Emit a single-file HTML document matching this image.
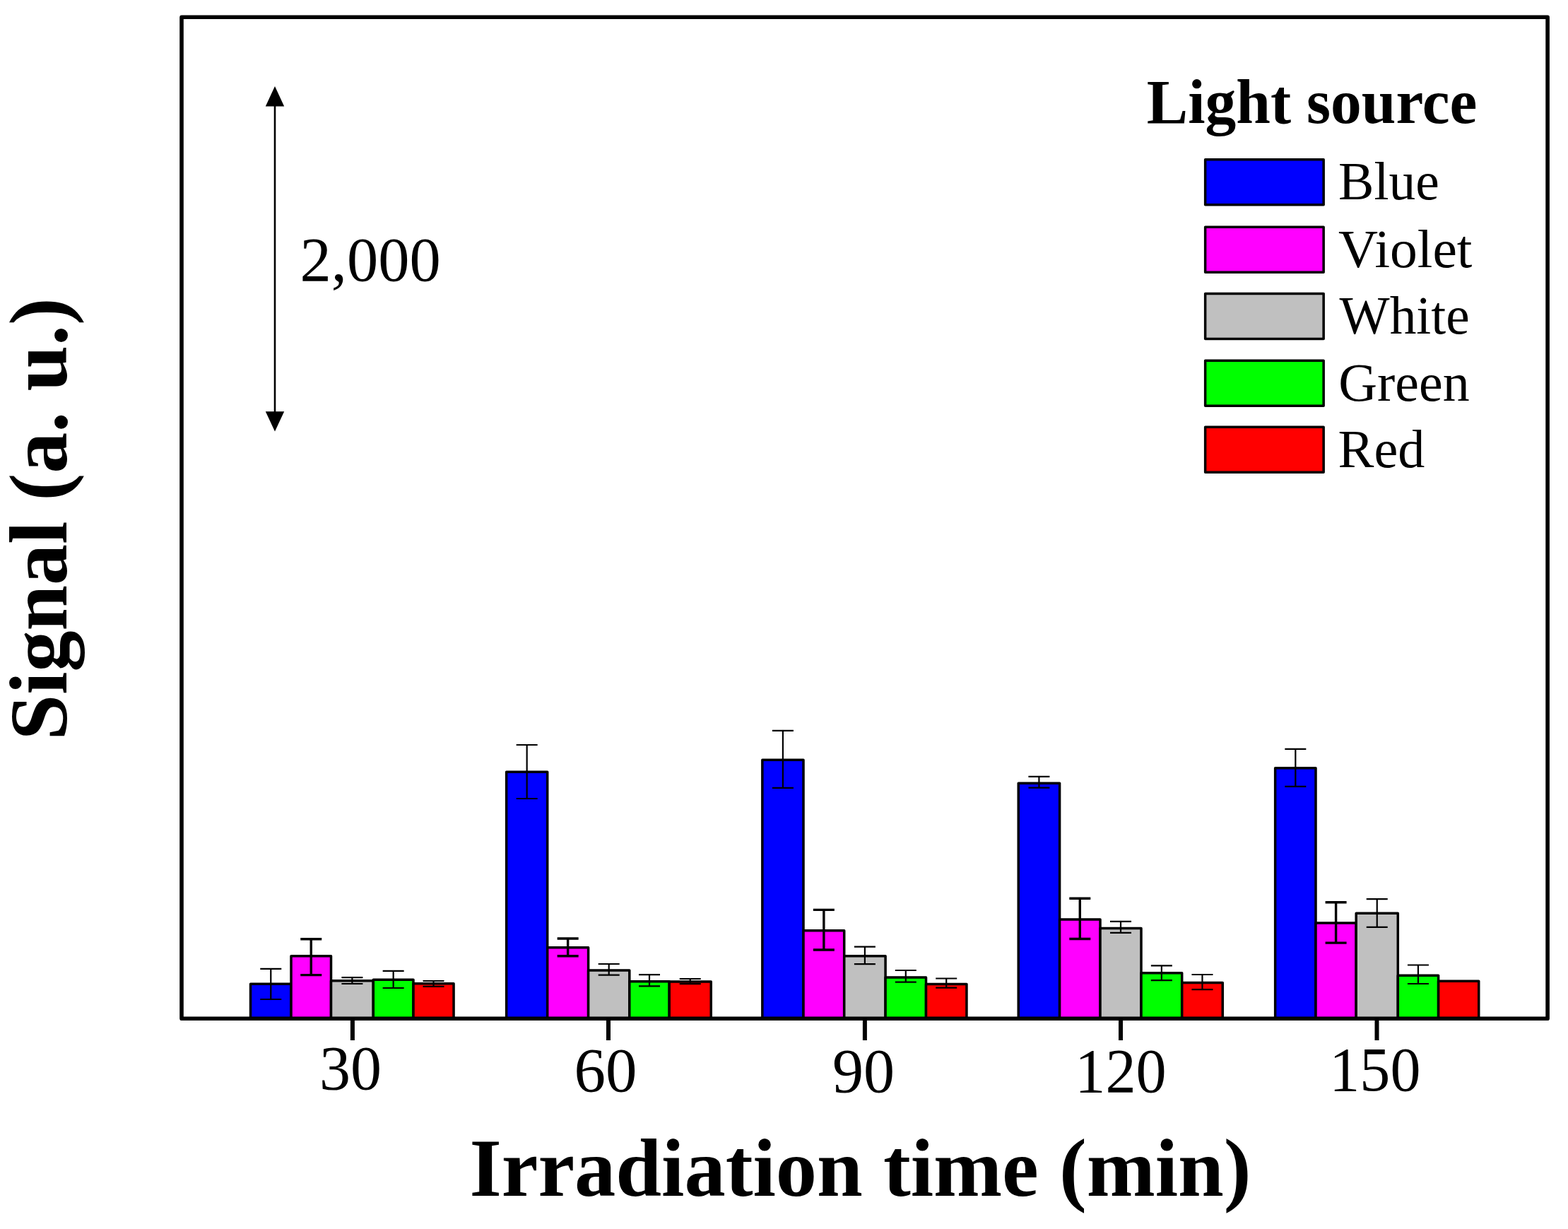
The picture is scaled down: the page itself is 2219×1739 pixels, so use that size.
<!DOCTYPE html>
<html><head><meta charset="utf-8"><title>Signal vs irradiation time</title>
<style>
html,body{margin:0;padding:0;background:#fff;}
body{width:2219px;height:1739px;overflow:hidden;}
svg{display:block;}
.t{font-family:"Liberation Serif","Times New Roman",serif;fill:#000;}
.b{font-weight:bold;}
</style></head><body>
<svg width="2219" height="1739" viewBox="0 0 2219 1739">
<rect x="0" y="0" width="2219" height="1739" fill="#fff"/>
<g stroke="#000" stroke-width="3.5" stroke-linejoin="round">
<rect x="354.55" y="1392.35" width="57.45" height="48.95" fill="#0000FF"/>
<rect x="412.00" y="1352.75" width="56.50" height="88.55" fill="#FF00FF"/>
<rect x="468.50" y="1387.65" width="59.80" height="53.65" fill="#C0C0C0"/>
<rect x="528.30" y="1386.15" width="56.70" height="55.15" fill="#00FF00"/>
<rect x="585.00" y="1391.75" width="57.05" height="49.55" fill="#FF0000"/>
<rect x="716.65" y="1092.15" width="58.05" height="349.15" fill="#0000FF"/>
<rect x="774.70" y="1340.65" width="57.90" height="100.65" fill="#FF00FF"/>
<rect x="832.60" y="1373.05" width="58.20" height="68.25" fill="#C0C0C0"/>
<rect x="890.80" y="1388.65" width="56.40" height="52.65" fill="#00FF00"/>
<rect x="947.20" y="1389.05" width="59.05" height="52.25" fill="#FF0000"/>
<rect x="1078.85" y="1075.15" width="58.15" height="366.15" fill="#0000FF"/>
<rect x="1137.00" y="1316.85" width="57.70" height="124.45" fill="#FF00FF"/>
<rect x="1194.70" y="1352.85" width="58.40" height="88.45" fill="#C0C0C0"/>
<rect x="1253.10" y="1383.05" width="57.40" height="58.25" fill="#00FF00"/>
<rect x="1310.50" y="1392.55" width="57.45" height="48.75" fill="#FF0000"/>
<rect x="1441.25" y="1108.15" width="58.35" height="333.15" fill="#0000FF"/>
<rect x="1499.60" y="1300.95" width="57.40" height="140.35" fill="#FF00FF"/>
<rect x="1557.00" y="1313.55" width="58.00" height="127.75" fill="#C0C0C0"/>
<rect x="1615.00" y="1376.85" width="57.70" height="64.45" fill="#00FF00"/>
<rect x="1672.70" y="1390.45" width="57.55" height="50.85" fill="#FF0000"/>
<rect x="1804.65" y="1086.85" width="57.35" height="354.45" fill="#0000FF"/>
<rect x="1862.00" y="1305.95" width="57.20" height="135.35" fill="#FF00FF"/>
<rect x="1919.20" y="1292.35" width="59.10" height="148.95" fill="#C0C0C0"/>
<rect x="1978.30" y="1380.15" width="57.30" height="61.15" fill="#00FF00"/>
<rect x="2035.60" y="1388.35" width="57.15" height="52.95" fill="#FF0000"/>
</g>
<g stroke="#000" stroke-width="2.2" fill="none">
<path d="M383.27 1370.90V1414.00M368.27 1370.90H398.27M368.27 1414.00H398.27"/>
<path stroke-width="3.4" d="M440.25 1328.70V1379.60M425.25 1328.70H455.25M425.25 1379.60H455.25"/>
<path d="M498.40 1383.20V1392.00M483.40 1383.20H513.40M483.40 1392.00H513.40"/>
<path d="M556.65 1373.80V1398.00M541.65 1373.80H571.65M541.65 1398.00H571.65"/>
<path d="M613.52 1388.00V1395.80M598.52 1388.00H628.52M598.52 1395.80H628.52"/>
<path d="M745.67 1054.00V1130.00M730.67 1054.00H760.67M730.67 1130.00H760.67"/>
<path stroke-width="3.4" d="M803.65 1328.00V1352.80M788.65 1328.00H818.65M788.65 1352.80H818.65"/>
<path d="M861.70 1364.00V1379.70M846.70 1364.00H876.70M846.70 1379.70H876.70"/>
<path d="M919.00 1379.20V1395.30M904.00 1379.20H934.00M904.00 1395.30H934.00"/>
<path d="M976.73 1385.00V1392.10M961.73 1385.00H991.73M961.73 1392.10H991.73"/>
<path d="M1107.92 1033.80V1114.90M1092.92 1033.80H1122.92M1092.92 1114.90H1122.92"/>
<path stroke-width="3.4" d="M1165.85 1287.40V1344.00M1150.85 1287.40H1180.85M1150.85 1344.00H1180.85"/>
<path d="M1223.90 1339.70V1364.20M1208.90 1339.70H1238.90M1208.90 1364.20H1238.90"/>
<path d="M1281.80 1373.00V1389.60M1266.80 1373.00H1296.80M1266.80 1389.60H1296.80"/>
<path d="M1339.22 1384.50V1397.60M1324.22 1384.50H1354.22M1324.22 1397.60H1354.22"/>
<path d="M1470.42 1098.80V1114.70M1455.42 1098.80H1485.42M1455.42 1114.70H1485.42"/>
<path stroke-width="3.4" d="M1528.30 1271.30V1328.50M1513.30 1271.30H1543.30M1513.30 1328.50H1543.30"/>
<path d="M1586.00 1303.80V1319.80M1571.00 1303.80H1601.00M1571.00 1319.80H1601.00"/>
<path d="M1643.85 1366.40V1387.20M1628.85 1366.40H1658.85M1628.85 1387.20H1658.85"/>
<path d="M1701.47 1379.00V1400.20M1686.47 1379.00H1716.47M1686.47 1400.20H1716.47"/>
<path d="M1833.33 1059.80V1112.80M1818.33 1059.80H1848.33M1818.33 1112.80H1848.33"/>
<path stroke-width="3.4" d="M1890.60 1276.70V1334.10M1875.60 1276.70H1905.60M1875.60 1334.10H1905.60"/>
<path d="M1948.75 1272.10V1311.90M1933.75 1272.10H1963.75M1933.75 1311.90H1963.75"/>
<path d="M2006.95 1365.50V1392.00M1991.95 1365.50H2021.95M1991.95 1392.00H2021.95"/>
</g>
<rect x="257.0" y="24.3" width="1933.10" height="1417.00" fill="none" stroke="#000" stroke-width="5.6" stroke-linejoin="round"/>
<g stroke="#000" stroke-width="6">
<line x1="498.9" y1="1441.3" x2="498.9" y2="1472"/>
<line x1="861.0" y1="1441.3" x2="861.0" y2="1472"/>
<line x1="1223.9" y1="1441.3" x2="1223.9" y2="1472"/>
<line x1="1586.0" y1="1441.3" x2="1586.0" y2="1472"/>
<line x1="1948.5" y1="1441.3" x2="1948.5" y2="1472"/>
</g>
<text class="t" font-size="88.5" transform="translate(452.02 1540.60) scale(0.9951 1)">30</text>
<text class="t" font-size="88.5" transform="translate(812.48 1544.20) scale(1.0062 1)">60</text>
<text class="t" font-size="88.5" transform="translate(1178.01 1544.80) scale(0.9963 1)">90</text>
<text class="t" font-size="88.5" transform="translate(1521.30 1544.60) scale(0.9752 1)">120</text>
<text class="t" font-size="88.5" transform="translate(1881.32 1542.80) scale(0.9727 1)">150</text>
<text class="t b" font-size="117" transform="translate(664.42 1692.30) scale(0.9955 1)">Irradiation time (min)</text>
<text class="t b" font-size="117" transform="translate(94 1047.46) rotate(-90) scale(0.9931 1)">Signal (a. u.)</text>
<line x1="389" y1="148" x2="389" y2="584" stroke="#000" stroke-width="2.6"/>
<path d="M389 122L402.2 150.5H375.8Z" fill="#000"/>
<path d="M389 610.5L402.2 582.2H375.8Z" fill="#000"/>
<text class="t" font-size="88.5" transform="translate(424.50 397.30) scale(1.0000 1)">2,000</text>
<text class="t b" font-size="89" transform="translate(1622.83 174.00) scale(0.9834 1)">Light source</text>
<rect x="1705.65" y="225.65" width="167.50" height="64.00" fill="#0000FF" stroke="#000" stroke-width="3.5" stroke-linejoin="round"/>
<text class="t" font-size="76.5" transform="translate(1894.12 282.20) scale(0.9879 1)">Blue</text>
<rect x="1705.65" y="321.25" width="167.50" height="64.00" fill="#FF00FF" stroke="#000" stroke-width="3.5" stroke-linejoin="round"/>
<text class="t" font-size="76.5" transform="translate(1894.09 378.00) scale(1.0146 1)">Violet</text>
<rect x="1705.65" y="415.45" width="167.50" height="64.00" fill="#C0C0C0" stroke="#000" stroke-width="3.5" stroke-linejoin="round"/>
<text class="t" font-size="76.5" transform="translate(1895.60 471.70) scale(0.9848 1)">White</text>
<rect x="1705.65" y="510.15" width="167.50" height="64.00" fill="#00FF00" stroke="#000" stroke-width="3.5" stroke-linejoin="round"/>
<text class="t" font-size="76.5" transform="translate(1894.22 566.60) scale(0.9923 1)">Green</text>
<rect x="1705.65" y="604.35" width="167.50" height="64.00" fill="#FF0000" stroke="#000" stroke-width="3.5" stroke-linejoin="round"/>
<text class="t" font-size="76.5" transform="translate(1893.61 660.60) scale(0.9967 1)">Red</text>
</svg>
</body></html>
